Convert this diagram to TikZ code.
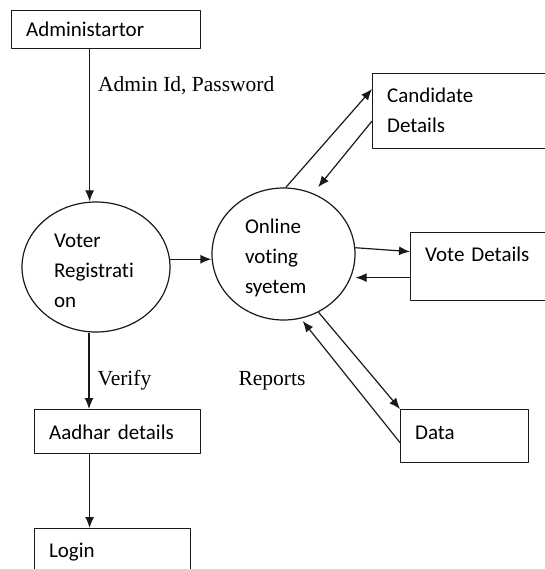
\documentclass[tikz,border=0pt]{standalone}
\usepackage{fontspec}
\setmainfont{Liberation Serif}
\newfontfamily\boxfont{Carlito}[Ligatures=NoCommon]
\usetikzlibrary{arrows.meta,shapes.geometric}
\tikzset{
  flowbox/.style={draw, rectangle, anchor=north west, align=left, inner xsep=14.5bp, inner ysep=0bp,
    font=\boxfont\fontsize{21bp}{30bp}\selectfont},
  flowproc/.style={draw, ellipse, inner sep=0bp, align=left,
    font=\boxfont\fontsize{21bp}{30bp}\selectfont},
  flowlbl/.style={anchor=west, inner sep=0bp, font=\fontsize{21.5bp}{26bp}\selectfont},
}
\begin{document}
\begin{tikzpicture}[x=1bp,y=-1bp,>={Latex[length=11bp,width=9bp]},line join=bevel]
  \useasboundingbox (0,0) rectangle (545,569);
  \clip (0,0) rectangle (545,569);
  \pgfsetlinewidth{1.2bp}
  \pgfsetcolor{black!90}
%%
  % Node: Administartor
  \node[flowbox, text width=160bp, text height=26bp, text depth=12bp] (admin) at (11,10) {Administartor};
  % Node: Voter Registration
  \node[flowproc, text width=84bp, minimum width=148bp, minimum height=130bp] (voter) at (96,267) {\rule{0pt}{21bp}Voter\\Registrati\\on};
  % Node: Online voting syetem
  \node[flowproc, text width=77bp, minimum width=143bp, minimum height=132bp] (online) at (283.5,254) {\rule{0pt}{23bp}Online\\voting\\syetem};
  % Node: Candidate Details
  \node[flowbox, text width=171bp, text height=29bp, text depth=46bp] (cand) at (372,73) {Candidate\\Details};
  % Node: Vote Details
  \node[flowbox, text width=171bp, text height=29bp, text depth=39bp] (vote) at (410,232) {Vote Details};
  % Node: Data
  \node[flowbox, text width=99bp, text height=30bp, text depth=23bp] (data) at (400,409) {Data};
  % Node: Aadhar details
  \node[flowbox, text width=137bp, text height=30bp, text depth=14bp] (aadhar) at (34,409) {Aadhar details};
  % Node: Login
  \node[flowbox, text width=127bp, text height=29bp, text depth=31bp] (login) at (34,528) {Login};
  % Node: Reports
  \node[flowlbl] (reports) at (238,381) {Reports};
%%
  % Edge: Administartor -> Voter Registration
  \draw [->] ([xshift=-16.5bp]admin.south) -- ([xshift=-16.5bp]admin.south |- voter.north)
    node[flowlbl, pos=0.24, xshift=8bp] (lblpass) {Admin Id, Password};
  % Edge: Voter Registration -> Online voting syetem
  \draw [->] (voter.6) -- (voter.6 -| online.west);
  % Edge: Online voting syetem -> Candidate Details
  \draw [->] (online.88) -- ([yshift=22bp]cand.west);
  % Edge: Candidate Details -> Online voting syetem
  \draw [->, shorten >=8bp] ([yshift=-10bp]cand.west) -- (online.64);
  % Edge: Online voting syetem -> Vote Details
  \draw [->] (online.5) -- ([yshift=15bp]vote.west);
  % Edge: Vote Details -> Online voting syetem
  \draw [->] ([yshift=-11bp]vote.west) -- ([yshift=-11bp]vote.west -| online.east);
  % Edge: Online voting syetem -> Data
  \draw [->] (online.-59) -- (data.north west);
  % Edge: Data -> Online voting syetem
  \draw [->, shorten >=3bp] ([yshift=-6.5bp]data.west) -- (online.-75);
  % Edge: Voter Registration -> Aadhar details
  \draw [->] ([xshift=-7bp]voter.south) -- ([xshift=-7bp]voter.south |- aadhar.north)
    node[flowlbl, pos=0.63, xshift=8bp] (lblverify) {Verify};
  % Edge: Aadhar details -> Login
  \draw [->] ([xshift=-28bp]aadhar.south) -- ([xshift=-28bp]aadhar.south |- login.north);
%
\end{tikzpicture}
\end{document}
